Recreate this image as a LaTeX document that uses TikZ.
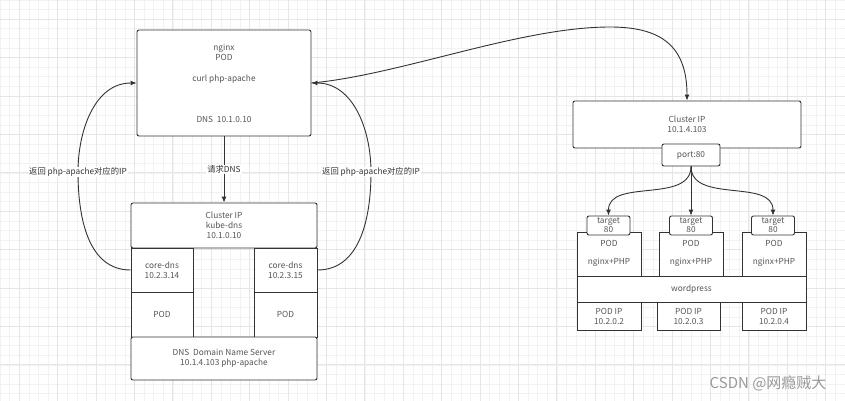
\documentclass[tikz,border=0pt]{standalone}
\usepackage{fontspec}
\setmainfont{Noto Sans CJK SC}
\usetikzlibrary{arrows.meta}
\definecolor{linec}{HTML}{333333}
\definecolor{textc}{HTML}{555555}
\definecolor{gridlo}{HTML}{F2F2F2}
\definecolor{gridhi}{HTML}{E6E6E6}
\tikzset{
	box/.style={draw=linec, line width=0.9pt, fill=white, inner sep=0pt, align=center, text=textc, font=\fontsize{8.3}{10}\selectfont},
	cell/.style={box, rounded corners=0pt},
	txt/.style={inner sep=0pt, align=center, text=textc, font=\fontsize{8.3}{10}\selectfont},
	lbl/.style={fill=white, inner sep=1pt, text=linec, font=\fontsize{8.3}{10}\selectfont},
	conn/.style={draw=linec, line width=0.9pt, -{Latex[length=6pt,width=5pt]}},
	gridminor/.style={gridlo, line width=0.6pt},
	gridmajor/.style={gridhi, line width=0.8pt}
}

\begin{document}
\begin{tikzpicture}[x=1pt,y=-1pt]
		\useasboundingbox (0,0) rectangle (845,401);
		\fill[white] (0,0) rectangle (845,401);
		\foreach \gx in {0,9.6,...,845} \draw[gridminor] (\gx,0) -- (\gx,401);
		\foreach \gy in {0,9.6,...,401} \draw[gridminor] (0,\gy) -- (845,\gy);
		\foreach \gx in {19.2,57.6,...,845} \draw[gridmajor] (\gx,0) -- (\gx,401);
		\foreach \gy in {19.2,57.6,...,401} \draw[gridmajor] (0,\gy) -- (845,\gy);

		\node[box, rounded corners=2pt, minimum width=174pt, minimum height=106pt] (nginx) at (224,83) {};
		\node[txt] (ngname) at (224,52) {nginx\\POD};
		\node[txt] (ngcurl) at (224,79) {curl php-apache};
		\node[txt] (ngdns) at (224,119) {DNS\ \ 10.1.0.10};

		\node[box, rounded corners=2pt, minimum width=186pt, minimum height=45pt] (kcip) at (224,225.5) {Cluster IP\\kube-dns\\10.1.0.10};
		\node[cell, minimum width=62pt, minimum height=44pt] (core1) at (162,270) {core-dns\\10.2.3.14};
		\node[cell, minimum width=62pt, minimum height=45pt] (pod1) at (162,314.5) {POD};
		\node[cell, minimum width=63pt, minimum height=44pt] (core2) at (285.5,270) {core-dns\\10.2.3.15};
		\node[cell, minimum width=63pt, minimum height=45pt] (pod2) at (285.5,314.5) {POD};
		\node[box, rounded corners=2pt, minimum width=186pt, minimum height=43pt] (dnssrv) at (224,358.5) {DNS\ \ Domain Name Server\\10.1.4.103 php-apache};

		\draw[conn] (nginx.south) -- node[lbl] {请求DNS} (kcip.north);

		\coordinate (lmid) at (78,172);
		\coordinate (rmid) at (371,172);
		\draw[conn] (core1.west) to[out=180,in=-90] (lmid) to[out=90,in=180] (nginx.west);
		\node[lbl] (lret) at (lmid) {返回 php-apache对应的IP};
		\draw[conn] (core2.east) to[out=0,in=-90] (rmid) to[out=90,in=0] (nginx.east);
		\node[lbl] (rret) at (rmid) {返回 php-apache对应的IP};

		\node[box, rounded corners=2pt, minimum width=228pt, minimum height=47pt] (svcip) at (687,124.5) {Cluster IP\\10.1.4.103};
		\node[box, rounded corners=2pt, minimum width=58pt, minimum height=22pt] (port) at (691,155) {port:80};

		\coordinate (peak) at (610,27);
		\draw[conn] (nginx.east) .. controls (400,75) and (520,27) .. (peak) .. controls (660,27) and (687,45) .. (svcip.north);

		\node[cell, minimum width=64pt, minimum height=44pt] (poda) at (609,254) {};
		\node[cell, minimum width=64pt, minimum height=44pt] (podb) at (691,254) {};
		\node[cell, minimum width=64pt, minimum height=44pt] (podc) at (774,254) {};
		\node[txt] (poda-t) at (609,253) {POD\\[8pt]nginx+PHP};
		\node[txt] (podb-t) at (691,253) {POD\\[8pt]nginx+PHP};
		\node[txt] (podc-t) at (774,253) {POD\\[8pt]nginx+PHP};
		\node[box, rounded corners=2pt, minimum width=43pt, minimum height=19pt, font=\fontsize{8.3}{9}\selectfont] (tgta) at (608.5,225.5) {target\\80};
		\node[box, rounded corners=2pt, minimum width=43pt, minimum height=19pt, font=\fontsize{8.3}{9}\selectfont] (tgtb) at (691,225.5) {target\\80};
		\node[box, rounded corners=2pt, minimum width=43pt, minimum height=19pt, font=\fontsize{8.3}{9}\selectfont] (tgtc) at (773,225.5) {target\\80};

		\node[cell, minimum width=229pt, minimum height=26pt] (wp) at (691.5,289) {wordpress};
		\node[cell, minimum width=64pt, minimum height=28pt] (ipa) at (609,316) {POD IP\\10.2.0.2};
		\node[cell, minimum width=63pt, minimum height=28pt] (ipb) at (688.5,316) {POD IP\\10.2.0.3};
		\node[cell, minimum width=64pt, minimum height=28pt] (ipc) at (774,316) {POD IP\\10.2.0.4};

		\draw[conn] (port.south) to[out=-90,in=90] (tgta.north);
		\draw[conn] (port.south) -- (tgtb.north);
		\draw[conn] (port.south) to[out=-90,in=90] (tgtc.north);

		\node[text=gray!80, font=\fontsize{15}{18}\selectfont, anchor=east] (mark) at (830,383) {CSDN @网瘾贼大};
		\end{tikzpicture}
\end{document}
